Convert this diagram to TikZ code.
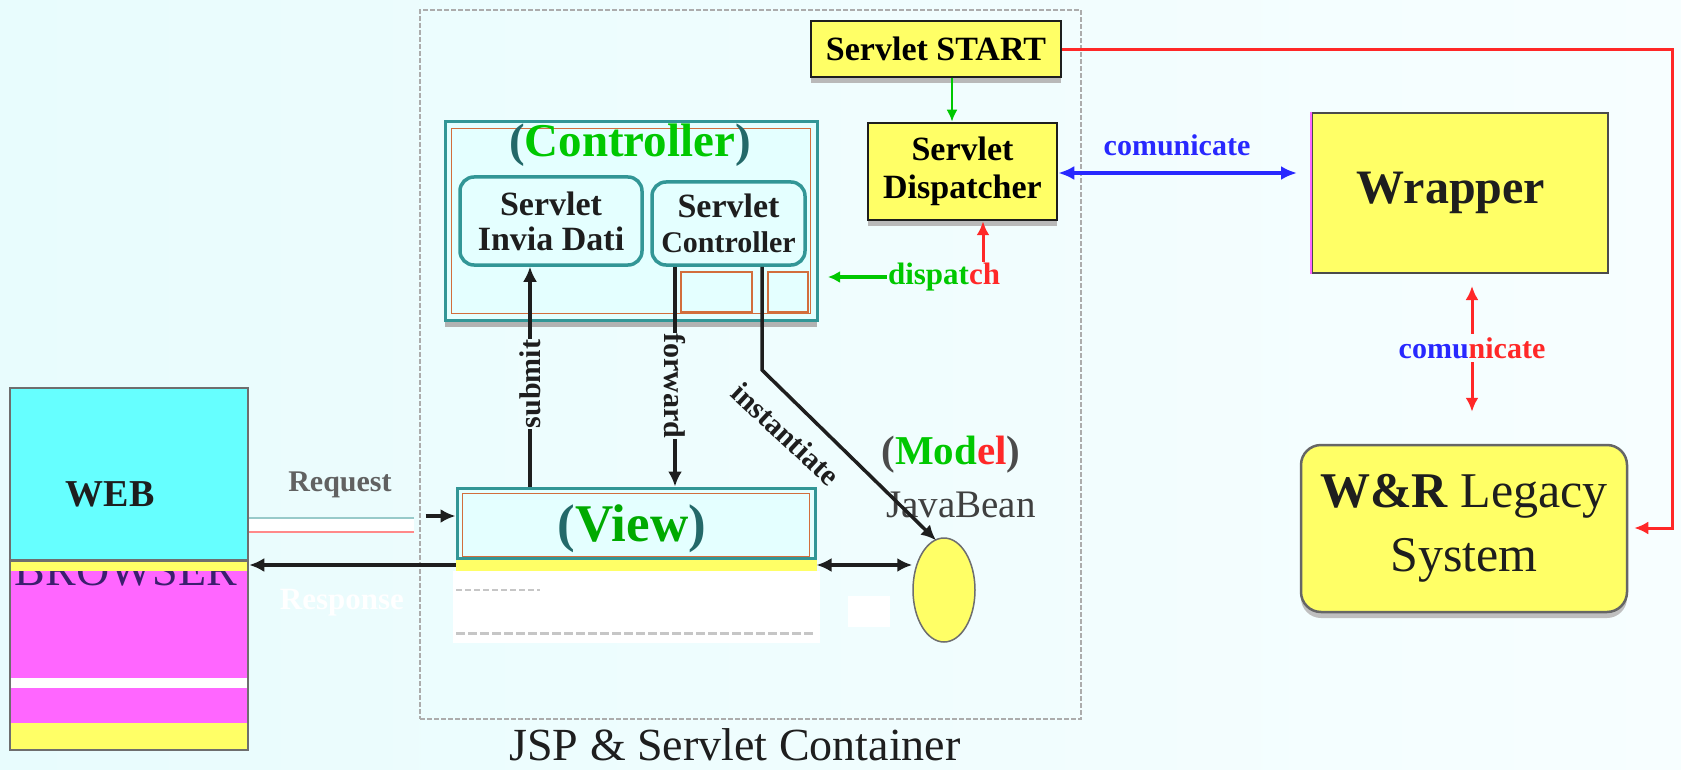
\documentclass[tikz,border=0pt]{standalone}
\usepackage{fontspec}
\setmainfont{Liberation Serif}
\usetikzlibrary{arrows.meta,shapes.geometric,shadows,calc}
\definecolor{bgL}{RGB}{232,252,253}
\definecolor{bgR}{RGB}{247,254,255}
\definecolor{bgM}{RGB}{238,253,254}
\definecolor{cyanb}{RGB}{102,255,255}
\definecolor{magb}{RGB}{255,102,255}
\definecolor{yelb}{RGB}{255,255,102}
\definecolor{lcyan}{RGB}{228,255,255}
\definecolor{teal2}{RGB}{50,150,150}
\definecolor{orng}{RGB}{210,110,60}
\definecolor{grn}{RGB}{0,200,0}
\definecolor{rd}{RGB}{255,40,40}
\definecolor{blu}{RGB}{40,40,255}
\definecolor{dk}{RGB}{30,30,30}
\definecolor{gborder}{RGB}{110,110,110}
\definecolor{purp}{RGB}{60,30,110}
\newcommand{\myfs}[2]{\fontsize{#1}{#2}\selectfont}
\begin{document}
\begin{tikzpicture}[x=1pt,y=-1pt,
  ybox/.style={draw=dk, line width=2.5pt, fill=yelb, inner sep=0pt,
    drop shadow={shadow xshift=0pt,shadow yshift=-6pt,fill=gray!55,opacity=1}},
  ctrlbox/.style={draw=teal2, line width=3pt, fill=lcyan, inner sep=0pt,
    drop shadow={shadow xshift=0pt,shadow yshift=-7pt,fill=gray!60,opacity=1}},
  sbox/.style={draw=teal2, line width=3.5pt, fill=lcyan, rounded corners=14pt, inner sep=0pt, align=center,
    font={\myfs{34}{35}\bfseries}, text=dk},
  blk/.style={draw=dk, line width=3.5pt},
  tipb/.style={-{Latex[length=15pt,width=14pt]}},
  lbl/.style={fill=bgM, inner sep=1pt, font={\myfs{30}{30}\bfseries}, text=dk},
]
\useasboundingbox (0,0) rectangle (1681,770);
\shade[left color=bgL, right color=bgR] (0,0) rectangle (1681,770);

% ---- container
\node[draw=gray!65, dash pattern=on 5pt off 2pt, line width=1.8pt,
      minimum width=661pt, minimum height=709pt, inner sep=0pt] (cont) at (750.5,364.5) {};
\node[font={\myfs{46}{46}}, text=dk] (contlbl) at (735,745) {JSP \& Servlet Container};

% ---- WEB BROWSER box
\fill[magb] (10,560) rectangle (248,678);
\node[font={\myfs{46}{46}}, text=purp, anchor=base] (browser) at (126,585) {BROWSER};
\fill[cyanb] (10,388) rectangle (248,560);
\fill[white] (10,678) rectangle (248,688);
\fill[magb] (10,688) rectangle (248,723);
\fill[yelb] (10,723) rectangle (248,750);
\fill[yelb] (10,560) rectangle (248,571);
\node[draw=gborder, line width=2.5pt, minimum width=238pt, minimum height=362pt, inner sep=0pt] (web) at (129,569) {};
\draw[gborder, line width=3pt] (web.west |- 0,560) -- (web.east |- 0,560);
\node[font={\myfs{38}{38}\bfseries}, text=dk, anchor=base] (weblbl) at (110,506) {WEB};

% ---- Controller
\node[ctrlbox, minimum width=372pt, minimum height=198pt] (ctrl) at (631,221) {};
\draw[orng, line width=1.2pt] ($(ctrl.north west)+(8,8)$) rectangle ($(ctrl.south east)+(-8,-8)$);
\node[font={\myfs{47}{47}\bfseries}, text=teal2!70!black] (ctrllbl) at (630,145) {(\textcolor{grn}{Controller})};
\node[sbox, minimum width=182pt, minimum height=88pt] (sid) at (551,221) {Servlet\\Invia Dati};
\node[sbox, minimum width=153pt, minimum height=83pt] (sc) at (728.5,223.5) {Servlet\\{\myfs{30}{30}Controller}};
\draw[orng, line width=1.2pt] (681,272) rectangle (752,312);
\draw[orng, line width=1.2pt] (768,272) rectangle (808,312);

% ---- View
\node[ctrlbox, drop shadow={opacity=0}, minimum width=358pt, minimum height=70pt] (view) at (636,523) {};
\draw[orng, line width=1.2pt] ($(view.north west)+(7,7)$) rectangle ($(view.south east)+(-7,-3)$);
\fill[yelb] (view.south west) rectangle ($(view.south east)+(0,12)$);
\fill[white] (453,571) rectangle (820,643);
\draw[gray!45, line width=2pt, dash pattern=on 6pt off 3pt] (456,590) -- (540,590);
\draw[gray!45, line width=3pt, dash pattern=on 9pt off 3pt] (456,633) -- (815,633);
\fill[white] (848,596) rectangle (890,627);
\node[font={\myfs{53}{53}\bfseries}, text=teal2!70!black] (viewlbl) at (632,529) {(\textcolor{grn!85!black}{View})};

% ---- JavaBean
\node[ellipse, draw=gborder, fill=yelb, line width=1.5pt, minimum width=62pt, minimum height=104pt, inner sep=0pt] (bean) at (944,590) {};
\node[font={\myfs{41}{41}\bfseries}, text=dk!80] (model) at (951,455) {(\textcolor{grn}{Mod}\textcolor{rd}{el})};
\node[font={\myfs{39}{39}}, text=dk!85] (javabean) at (961,505) {JavaBean};

% ---- Servlet START / Dispatcher
\node[ybox, minimum width=250pt, minimum height=56pt, font={\myfs{34}{34}\bfseries}] (start) at (936,49) {Servlet START};
\node[ybox, minimum width=189pt, minimum height=97pt, align=center, font={\myfs{34}{38}\bfseries}] (disp) at (962.5,171.5) {Servlet\\Dispatcher};
\node[font={\myfs{31}{31}\bfseries}, inner sep=1pt] (dl) at (944,277) {\textcolor{grn}{dispat}\textcolor{rd}{ch}};

% ---- Wrapper / Legacy
\node[draw=dk!80, line width=2pt, fill=yelb, minimum width=296pt, minimum height=160pt, inner sep=0pt,
      font={\myfs{48}{48}\bfseries}, text=dk] (wrap) at (1460,193) {\hspace*{-18pt}Wrapper};
\draw[magb, line width=2.5pt] (wrap.north west) -- (wrap.south west);
\node[draw=gray!80!black, line width=2.5pt, fill=yelb, rounded corners=20pt, minimum width=326pt, minimum height=167pt,
      inner sep=0pt, align=center, font={\myfs{50}{64}}, text=dk,
      drop shadow={shadow xshift=0pt,shadow yshift=-6pt,fill=gray!50,opacity=1}] (wl) at (1464,528.5)
      {\textbf{W\&R} Legacy\\System};
\node[font={\myfs{30}{30}\bfseries}, text=blu] (comm1) at (1177,145) {comunicate};
\node[font={\myfs{30}{30}\bfseries}] (comm2) at (1472,348) {\textcolor{blu}{comu}\textcolor{rd}{nicate}};

% ---- coordinates
\coordinate (ry) at (0,565);
\coordinate (qy) at (0,525);
\coordinate (qy2) at (0,516);
\coordinate (gx) at (952,0);
\coordinate (dax) at (983,0);
\coordinate (gtip) at (828,277);
\coordinate (cy) at (0,173);
\coordinate (ax) at (1472,0);
\coordinate (rc1) at (1672,50);
\coordinate (rc2) at (1672,528);
\coordinate (instk) at (762,370);

% ---- connectors
\draw[white, line width=14pt] (web.east |- qy) -- ($(view.west |- qy)+(-42,0)$);
\draw[teal2!50, line width=1.5pt] ($(web.east |- qy)+(0,-7)$) -- ($(view.west |- qy)+(-42,-7)$);
\draw[rd!55, line width=2.5pt] ($(web.east |- qy)+(0,7)$) -- ($(view.west |- qy)+(-42,7)$);
\draw[blk, tipb] ($(view.west |- qy2)+(-30,0)$) -- (view.west |- qy2);
\draw[blk, line width=4.5pt, tipb] (view.west |- ry) -- (web.east |- ry);
\draw[blk, {Latex[length=15pt,width=14pt]}-{Latex[length=15pt,width=14pt]}] (view.east |- ry) -- (bean.west |- ry);

\draw[blk, tipb] ($(view.north)+(-106,0)$) -- ($(sid.south -| view.north)+(-106,0)$);
\draw[blk, tipb] ($(sc.south)+(-53.5,0)$) -- ($(view.north -| sc.south)+(-53.5,0)$);
\draw[blk, tipb] ($(sc.south)+(33.5,0)$) -- (instk) -- ($(bean.north)+(-8,3)$);
\node[lbl, rotate=90] (lsub) at (530,384) {submit};
\node[lbl, rotate=-90] (lfwd) at (675,386) {forward};
\node[lbl, rotate=-43, fill=none] (linst) at (786,434) {instantiate};

\draw[grn, line width=2.5pt, -{Latex[length=12pt,width=11pt]}] (start.south -| gx) -- (disp.north -| gx);
\draw[rd, line width=3pt, -{Latex[length=14pt,width=13pt]}] (dl.north -| dax) -- (disp.south -| dax);
\draw[grn, line width=3.5pt, -{Latex[length=12pt,width=12pt]}] (dl.west) -- (gtip);

\draw[blu, line width=3.5pt, {Latex[length=16pt,width=14pt]}-{Latex[length=16pt,width=14pt]}] (disp.east |- cy) -- ($(wrap.west |- cy)+(-14,0)$);
\draw[rd, line width=3pt, -{Latex[length=14pt,width=13pt]}] (comm2.north -| ax) -- ($(wrap.south -| ax)+(0,12)$);
\draw[rd, line width=3pt, -{Latex[length=14pt,width=13pt]}] (comm2.south -| ax) -- ($(wl.north -| ax)+(0,-32)$);
\draw[rd, line width=3pt, -{Latex[length=14pt,width=13pt]}] (start.east |- rc1) -- (rc1) -- (rc2) -- ($(wl.east |- rc2)+(6,0)$);

% ---- request / response labels
\node[font={\myfs{30}{30}\bfseries}, text=dk!70] (lreq) at (340,485) {Request};
\node[font={\myfs{31}{31}\bfseries}, text=white] (lresp) at (342,603) {Response};
\end{tikzpicture}
\end{document}
